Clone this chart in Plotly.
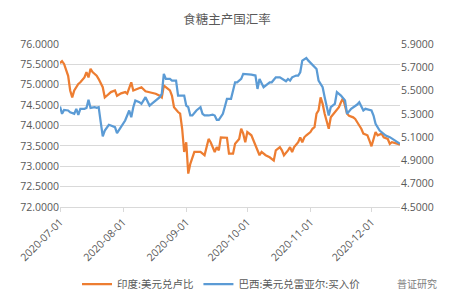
import plotly.graph_objects as go

title_text = "食糖主产国汇率"
inr_name = "印度:美元兑卢比"
brl_name = "巴西:美元兑雷亚尔:买入价"
watermark = "普证研究"

inr_dates = [
    "2020-07-01", "2020-07-02", "2020-07-03", "2020-07-05", "2020-07-06", "2020-07-07", "2020-07-08",
    "2020-07-10", "2020-07-11", "2020-07-13", "2020-07-14", "2020-07-15", "2020-07-16", "2020-07-17",
    "2020-07-19", "2020-07-20", "2020-07-22", "2020-07-23", "2020-07-24", "2020-07-26", "2020-07-28",
    "2020-07-29", "2020-07-31", "2020-08-02", "2020-08-03", "2020-08-05", "2020-08-06", "2020-08-08",
    "2020-08-10", "2020-08-12", "2020-08-14", "2020-08-17", "2020-08-19", "2020-08-20", "2020-08-21",
    "2020-08-22", "2020-08-24", "2020-08-25", "2020-08-26", "2020-08-28", "2020-08-29", "2020-08-30",
    "2020-08-31", "2020-09-01", "2020-09-02", "2020-09-03", "2020-09-05", "2020-09-06", "2020-09-08",
    "2020-09-10", "2020-09-11", "2020-09-12", "2020-09-13", "2020-09-14", "2020-09-15", "2020-09-16",
    "2020-09-17", "2020-09-18", "2020-09-20", "2020-09-21", "2020-09-22", "2020-09-24", "2020-09-25",
    "2020-09-27", "2020-09-28", "2020-09-29", "2020-09-30", "2020-10-01", "2020-10-03", "2020-10-04",
    "2020-10-06", "2020-10-07", "2020-10-08", "2020-10-10", "2020-10-12", "2020-10-14", "2020-10-15",
    "2020-10-17", "2020-10-18", "2020-10-19", "2020-10-21", "2020-10-22", "2020-10-23", "2020-10-24",
    "2020-10-26", "2020-10-27", "2020-10-28", "2020-10-29", "2020-10-30", "2020-11-01", "2020-11-02",
    "2020-11-03", "2020-11-04", "2020-11-05", "2020-11-06", "2020-11-07", "2020-11-08", "2020-11-09",
    "2020-11-10", "2020-11-11", "2020-11-13", "2020-11-15", "2020-11-16", "2020-11-17", "2020-11-19",
    "2020-11-20", "2020-11-22", "2020-11-23", "2020-11-25", "2020-11-26", "2020-11-27", "2020-11-29",
    "2020-11-30", "2020-12-01", "2020-12-03", "2020-12-04", "2020-12-06", "2020-12-07", "2020-12-09",
    "2020-12-10", "2020-12-11", "2020-12-13", "2020-12-14", "2020-12-15",
]
inr_values = [
    75.53, 75.58, 75.51, 75.22, 74.86, 74.69, 74.86,
    75.02, 75.06, 75.18, 75.31, 75.18, 75.39, 75.31,
    75.22, 75.14, 74.94, 74.69, 74.73, 74.82, 74.86,
    74.73, 74.79, 74.82, 74.78, 75.06, 74.86, 74.90,
    74.94, 74.84, 74.82, 74.78, 74.73, 74.69, 74.98,
    74.94, 74.86, 74.73, 74.45, 74.33, 74.29, 73.92,
    73.35, 73.59, 72.82, 73.06, 73.35, 73.35, 73.35,
    73.27, 73.47, 73.67, 73.59, 73.47, 73.35, 73.47,
    73.39, 73.71, 73.71, 73.70, 73.31, 73.31, 73.55,
    73.67, 73.92, 73.80, 73.59, 73.84, 73.76, 73.63,
    73.39, 73.27, 73.35, 73.27, 73.22, 73.14, 73.39,
    73.47, 73.39, 73.27, 73.39, 73.47, 73.35, 73.47,
    73.59, 73.71, 73.59, 73.71, 73.76, 73.84, 73.92,
    73.96, 74.29, 74.37, 74.69, 74.53, 74.29, 74.12,
    73.92, 74.20, 74.33, 74.45, 74.57, 74.67, 74.29,
    74.24, 74.20, 74.16, 74.00, 73.92, 73.80, 73.76,
    73.63, 73.49, 73.84, 73.76, 73.80, 73.71, 73.67,
    73.55, 73.59, 73.57, 73.55, 73.53,
]

brl_dates = [
    "2020-07-01", "2020-07-02", "2020-07-03", "2020-07-05", "2020-07-06", "2020-07-08", "2020-07-09",
    "2020-07-10", "2020-07-11", "2020-07-13", "2020-07-14", "2020-07-15", "2020-07-16", "2020-07-18",
    "2020-07-19", "2020-07-20", "2020-07-21", "2020-07-22", "2020-07-23", "2020-07-25", "2020-07-26",
    "2020-07-28", "2020-07-29", "2020-07-31", "2020-08-02", "2020-08-04", "2020-08-05", "2020-08-06",
    "2020-08-07", "2020-08-09", "2020-08-10", "2020-08-12", "2020-08-14", "2020-08-15", "2020-08-17",
    "2020-08-19", "2020-08-20", "2020-08-21", "2020-08-22", "2020-08-24", "2020-08-25", "2020-08-27",
    "2020-08-28", "2020-08-31", "2020-09-01", "2020-09-02", "2020-09-03", "2020-09-04", "2020-09-06",
    "2020-09-08", "2020-09-09", "2020-09-10", "2020-09-12", "2020-09-14", "2020-09-15", "2020-09-16",
    "2020-09-17", "2020-09-19", "2020-09-20", "2020-09-21", "2020-09-23", "2020-09-24", "2020-09-25",
    "2020-09-26", "2020-09-27", "2020-09-28", "2020-09-29", "2020-09-30", "2020-10-02", "2020-10-03",
    "2020-10-05", "2020-10-06", "2020-10-07", "2020-10-09", "2020-10-10", "2020-10-12", "2020-10-13",
    "2020-10-15", "2020-10-17", "2020-10-18", "2020-10-20", "2020-10-21", "2020-10-22", "2020-10-23",
    "2020-10-25", "2020-10-26", "2020-10-27", "2020-10-28", "2020-10-30", "2020-10-31", "2020-11-02",
    "2020-11-03", "2020-11-04", "2020-11-05", "2020-11-07", "2020-11-08", "2020-11-09", "2020-11-10",
    "2020-11-11", "2020-11-13", "2020-11-14", "2020-11-16", "2020-11-18", "2020-11-19", "2020-11-21",
    "2020-11-23", "2020-11-24", "2020-11-25", "2020-11-27", "2020-11-28", "2020-11-30", "2020-12-01",
    "2020-12-02", "2020-12-03", "2020-12-05", "2020-12-06", "2020-12-08", "2020-12-10", "2020-12-11",
    "2020-12-13", "2020-12-15",
]
brl_values = [
    5.363, 5.300, 5.334, 5.329, 5.314, 5.300, 5.343,
    5.291, 5.343, 5.343, 5.351, 5.420, 5.351, 5.357,
    5.351, 5.357, 5.229, 5.106, 5.157, 5.206, 5.200,
    5.186, 5.134, 5.186, 5.243, 5.329, 5.271, 5.357,
    5.414, 5.400, 5.386, 5.443, 5.371, 5.386, 5.414,
    5.443, 5.471, 5.643, 5.600, 5.600, 5.586, 5.586,
    5.457, 5.457, 5.371, 5.357, 5.286, 5.286, 5.329,
    5.357, 5.300, 5.286, 5.286, 5.294, 5.286, 5.249,
    5.249, 5.300, 5.363, 5.429, 5.429, 5.514, 5.571,
    5.571, 5.586, 5.600, 5.643, 5.643, 5.643, 5.637,
    5.629, 5.514, 5.600, 5.529, 5.543, 5.571, 5.571,
    5.614, 5.614, 5.600, 5.580, 5.600, 5.586, 5.614,
    5.629, 5.629, 5.657, 5.757, 5.780, 5.757, 5.720,
    5.700, 5.686, 5.586, 5.529, 5.443, 5.357, 5.286,
    5.357, 5.386, 5.486, 5.457, 5.414, 5.300, 5.343,
    5.363, 5.380, 5.400, 5.329, 5.343, 5.337, 5.329,
    5.286, 5.214, 5.157, 5.143, 5.114, 5.100, 5.086,
    5.066, 5.043,
]

left_ticks = [72.0, 72.5, 73.0, 73.5, 74.0, 74.5, 75.0, 75.5, 76.0]
right_ticks = [4.5, 4.7, 4.9, 5.1, 5.3, 5.5, 5.7, 5.9]
x_ticks = ["2020-07-01", "2020-08-01", "2020-09-01", "2020-10-01", "2020-11-01", "2020-12-01"]

ORANGE = "#ED7D31"
BLUE = "#5B9BD5"
TXT = "#595959"
GRID = "#D9D9D9"
FONT = "Noto Sans CJK SC, Open Sans, sans-serif"

fig = go.Figure()
fig.add_trace(go.Scatter(x=inr_dates, y=inr_values, name=inr_name, mode="lines",
                         line=dict(color=ORANGE, width=2.25), yaxis="y"))
fig.add_trace(go.Scatter(x=brl_dates, y=brl_values, name=brl_name, mode="lines",
                         line=dict(color=BLUE, width=2.25), yaxis="y2"))

fig.update_layout(
    width=454, height=303,
    margin=dict(l=60, r=54, t=44, b=96, autoexpand=False),
    paper_bgcolor="white", plot_bgcolor="white",
    font=dict(family=FONT, size=10, color=TXT),
    title=dict(text=title_text, x=0.5, xanchor="center", y=0.935, yanchor="middle",
               font=dict(size=12.5, color=TXT, family=FONT)),
    showlegend=True,
    legend=dict(orientation="h", x=0.475, xanchor="center",
                yref="container", y=0.062, yanchor="middle",
                font=dict(size=10.5, color=TXT, family=FONT), itemwidth=30,
                bgcolor="rgba(0,0,0,0)"),
    xaxis=dict(type="date", range=["2020-07-01", "2020-12-15"], automargin=False,
               tickvals=x_ticks, ticktext=x_ticks, tickangle=-45,
               showgrid=False, showline=True, linecolor=GRID, linewidth=1,
               ticks="outside", ticklen=4, tickcolor=GRID,
               tickfont=dict(size=10.5, color=TXT, family="Open Sans, sans-serif"),
               zeroline=False),
    yaxis=dict(range=[72, 76], tickvals=left_ticks, automargin=False,
               ticktext=[f"{v:.4f}" for v in left_ticks],
               showgrid=True, gridcolor=GRID, gridwidth=1, zeroline=False,
               showline=False, ticks="", ticklen=0,
               tickfont=dict(size=10.5, color=TXT, family="Open Sans, sans-serif")),
    yaxis2=dict(range=[4.5, 5.9], tickvals=right_ticks, automargin=False,
                ticktext=[f"{v:.4f}" for v in right_ticks],
                overlaying="y", side="right", showgrid=False, zeroline=False,
                showline=False, ticks="",
                tickfont=dict(size=10.5, color=TXT, family="Open Sans, sans-serif")),
)

fig.add_annotation(text=watermark, xref="paper", yref="paper", x=1.05, y=-0.47,
                   xanchor="center", yanchor="middle", showarrow=False,
                   font=dict(size=10, color="#808080", family=FONT))

fig.write_html("out.html")
